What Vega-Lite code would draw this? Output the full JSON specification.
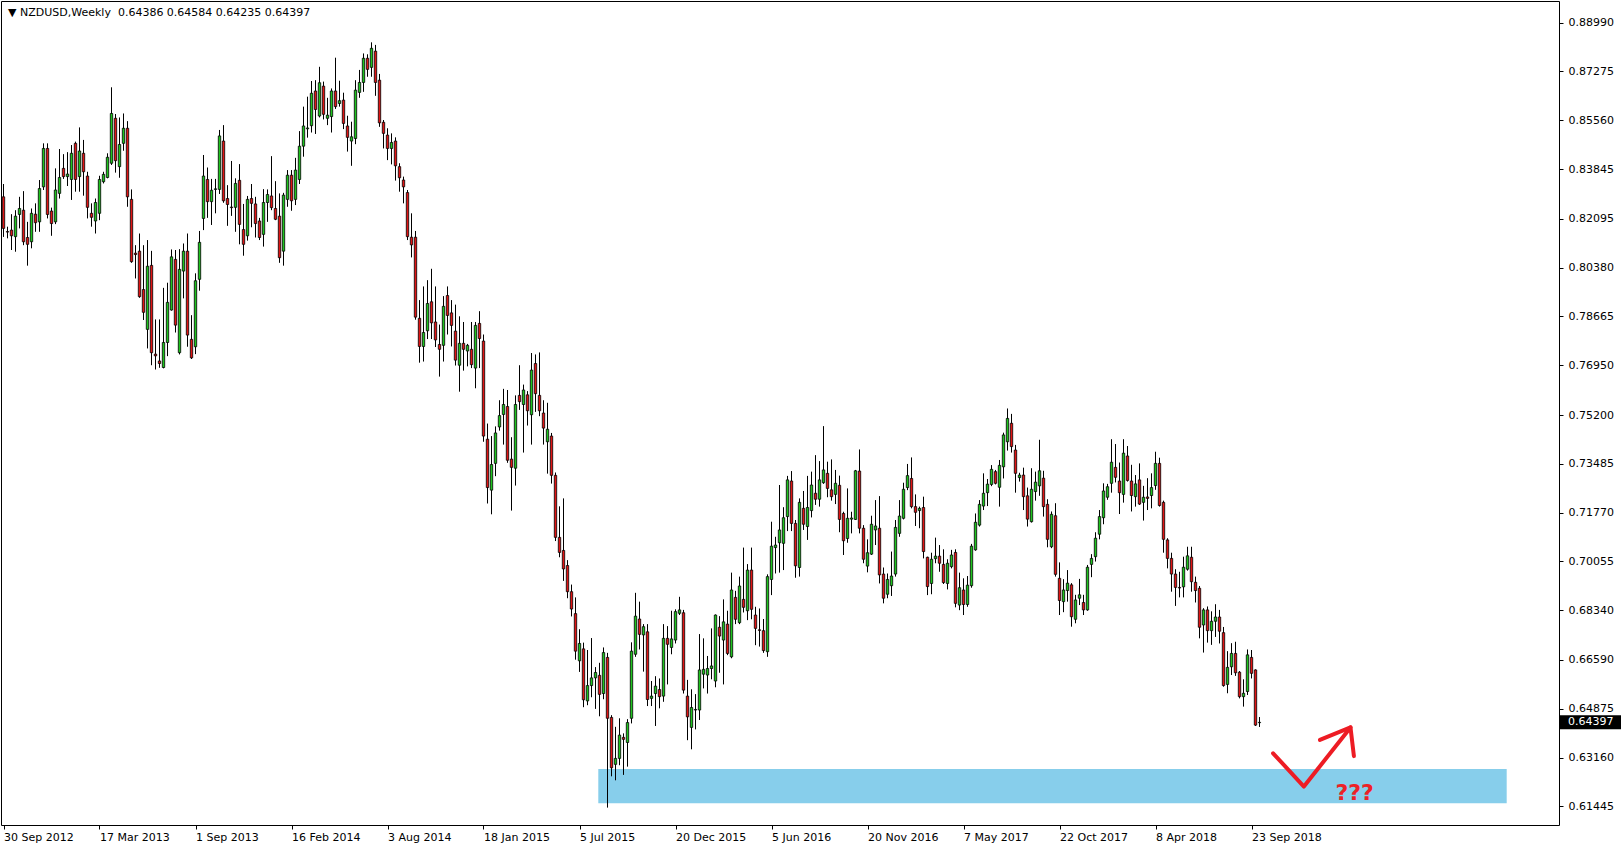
{
"$schema":"https://vega.github.io/schema/vega-lite/v6.json",
"width":1558,"height":824,
"autosize":{"type":"none"},
"padding":{"left":1,"top":1,"right":62,"bottom":25},
"background":"white",
"title":{"text":"▼ NZDUSD,Weekly \u00a00.64386 0.64584 0.64235 0.64397","anchor":"start","frame":"group","orient":"top","offset":-17,"dx":7,"font":"DejaVu Sans","fontSize":11,"fontWeight":"normal","color":"black"},
"config":{"view":{"stroke":"black","strokeWidth":1},"scale":{"continuousPadding":0},"axis":{"labelFont":"DejaVu Sans","labelFontSize":11,"labelColor":"black","tickColor":"black","domainColor":"black","grid":false,"title":null}},
"resolve":{"axis":{"x":"independent","y":"independent"}},
"datasets":{
"candles":[
{"d":"2012-09-30","o":0.8287,"h":0.8332,"l":0.8146,"c":0.8176},
{"d":"2012-10-07","o":0.8165,"h":0.8182,"l":0.8141,"c":0.8163},
{"d":"2012-10-14","o":0.8170,"h":0.8226,"l":0.8100,"c":0.8150},
{"d":"2012-10-21","o":0.8147,"h":0.8240,"l":0.8094,"c":0.8219},
{"d":"2012-10-28","o":0.8225,"h":0.8287,"l":0.8176,"c":0.8246},
{"d":"2012-11-04","o":0.8240,"h":0.8307,"l":0.8117,"c":0.8129},
{"d":"2012-11-11","o":0.8144,"h":0.8199,"l":0.8045,"c":0.8120},
{"d":"2012-11-18","o":0.8129,"h":0.8246,"l":0.8106,"c":0.8229},
{"d":"2012-11-25","o":0.8226,"h":0.8264,"l":0.8164,"c":0.8196},
{"d":"2012-12-02","o":0.8199,"h":0.8346,"l":0.8164,"c":0.8316},
{"d":"2012-12-09","o":0.8322,"h":0.8475,"l":0.8311,"c":0.8457},
{"d":"2012-12-16","o":0.8457,"h":0.8475,"l":0.8211,"c":0.8225},
{"d":"2012-12-23","o":0.8237,"h":0.8249,"l":0.8150,"c":0.8193},
{"d":"2012-12-30","o":0.8199,"h":0.8387,"l":0.8191,"c":0.8311},
{"d":"2013-01-06","o":0.8299,"h":0.8455,"l":0.8281,"c":0.8355},
{"d":"2013-01-13","o":0.8387,"h":0.8437,"l":0.8350,"c":0.8358},
{"d":"2013-01-20","o":0.8358,"h":0.8444,"l":0.8325,"c":0.8367},
{"d":"2013-01-27","o":0.8348,"h":0.8469,"l":0.8276,"c":0.8440},
{"d":"2013-02-03","o":0.8475,"h":0.8481,"l":0.8305,"c":0.8348},
{"d":"2013-02-10","o":0.8358,"h":0.8531,"l":0.8305,"c":0.8448},
{"d":"2013-02-17","o":0.8440,"h":0.8487,"l":0.8291,"c":0.8375},
{"d":"2013-02-24","o":0.8360,"h":0.8375,"l":0.8211,"c":0.8250},
{"d":"2013-03-03","o":0.8229,"h":0.8264,"l":0.8182,"c":0.8215},
{"d":"2013-03-10","o":0.8202,"h":0.8281,"l":0.8158,"c":0.8267},
{"d":"2013-03-17","o":0.8229,"h":0.8361,"l":0.8205,"c":0.8348},
{"d":"2013-03-24","o":0.8340,"h":0.8375,"l":0.8334,"c":0.8366},
{"d":"2013-03-31","o":0.8355,"h":0.8440,"l":0.8352,"c":0.8426},
{"d":"2013-04-07","o":0.8405,"h":0.8672,"l":0.8399,"c":0.8580},
{"d":"2013-04-14","o":0.8563,"h":0.8578,"l":0.8372,"c":0.8414},
{"d":"2013-04-21","o":0.8393,"h":0.8566,"l":0.8354,"c":0.8471},
{"d":"2013-04-28","o":0.8475,"h":0.8580,"l":0.8449,"c":0.8528},
{"d":"2013-05-05","o":0.8528,"h":0.8553,"l":0.8252,"c":0.8287},
{"d":"2013-05-12","o":0.8278,"h":0.8313,"l":0.8055,"c":0.8059},
{"d":"2013-05-19","o":0.8089,"h":0.8117,"l":0.8000,"c":0.8084},
{"d":"2013-05-26","o":0.8096,"h":0.8158,"l":0.7932,"c":0.7936},
{"d":"2013-06-02","o":0.7961,"h":0.8117,"l":0.7854,"c":0.7881},
{"d":"2013-06-09","o":0.7821,"h":0.8135,"l":0.7754,"c":0.8043},
{"d":"2013-06-16","o":0.8046,"h":0.8097,"l":0.7695,"c":0.7739},
{"d":"2013-06-23","o":0.7734,"h":0.7856,"l":0.7680,"c":0.7728},
{"d":"2013-06-30","o":0.7710,"h":0.7856,"l":0.7686,"c":0.7701},
{"d":"2013-07-07","o":0.7687,"h":0.7967,"l":0.7684,"c":0.7775},
{"d":"2013-07-14","o":0.7775,"h":0.7985,"l":0.7727,"c":0.7916},
{"d":"2013-07-21","o":0.7889,"h":0.8102,"l":0.7887,"c":0.8076},
{"d":"2013-07-28","o":0.8067,"h":0.8100,"l":0.7810,"c":0.7836},
{"d":"2013-08-04","o":0.7739,"h":0.8103,"l":0.7733,"c":0.8032},
{"d":"2013-08-11","o":0.8026,"h":0.8123,"l":0.7930,"c":0.8096},
{"d":"2013-08-18","o":0.8096,"h":0.8158,"l":0.7760,"c":0.7801},
{"d":"2013-08-25","o":0.7786,"h":0.7871,"l":0.7717,"c":0.7721},
{"d":"2013-09-01","o":0.7760,"h":0.8018,"l":0.7734,"c":0.7992},
{"d":"2013-09-08","o":0.7997,"h":0.8167,"l":0.7957,"c":0.8127},
{"d":"2013-09-15","o":0.8211,"h":0.8434,"l":0.8170,"c":0.8360},
{"d":"2013-09-22","o":0.8348,"h":0.8390,"l":0.8213,"c":0.8270},
{"d":"2013-09-29","o":0.8270,"h":0.8350,"l":0.8188,"c":0.8310},
{"d":"2013-10-06","o":0.8313,"h":0.8350,"l":0.8229,"c":0.8315},
{"d":"2013-10-13","o":0.8313,"h":0.8522,"l":0.8297,"c":0.8501},
{"d":"2013-10-20","o":0.8483,"h":0.8539,"l":0.8266,"c":0.8273},
{"d":"2013-10-27","o":0.8281,"h":0.8328,"l":0.8185,"c":0.8260},
{"d":"2013-11-03","o":0.8251,"h":0.8413,"l":0.8220,"c":0.8249},
{"d":"2013-11-10","o":0.8250,"h":0.8352,"l":0.8164,"c":0.8334},
{"d":"2013-11-17","o":0.8345,"h":0.8402,"l":0.8120,"c":0.8190},
{"d":"2013-11-24","o":0.8172,"h":0.8262,"l":0.8080,"c":0.8120},
{"d":"2013-12-01","o":0.8150,"h":0.8290,"l":0.8133,"c":0.8278},
{"d":"2013-12-08","o":0.8281,"h":0.8332,"l":0.8180,"c":0.8264},
{"d":"2013-12-15","o":0.8262,"h":0.8287,"l":0.8144,"c":0.8193},
{"d":"2013-12-22","o":0.8202,"h":0.8213,"l":0.8135,"c":0.8144},
{"d":"2013-12-29","o":0.8155,"h":0.8314,"l":0.8112,"c":0.8267},
{"d":"2014-01-05","o":0.8267,"h":0.8313,"l":0.8199,"c":0.8295},
{"d":"2014-01-12","o":0.8290,"h":0.8430,"l":0.8240,"c":0.8249},
{"d":"2014-01-19","o":0.8246,"h":0.8342,"l":0.8205,"c":0.8208},
{"d":"2014-01-26","o":0.8219,"h":0.8299,"l":0.8055,"c":0.8073},
{"d":"2014-02-02","o":0.8096,"h":0.8301,"l":0.8045,"c":0.8293},
{"d":"2014-02-09","o":0.8278,"h":0.8381,"l":0.8252,"c":0.8363},
{"d":"2014-02-16","o":0.8363,"h":0.8381,"l":0.8238,"c":0.8273},
{"d":"2014-02-23","o":0.8278,"h":0.8424,"l":0.8258,"c":0.8381},
{"d":"2014-03-02","o":0.8348,"h":0.8518,"l":0.8332,"c":0.8465},
{"d":"2014-03-09","o":0.8465,"h":0.8604,"l":0.8428,"c":0.8536},
{"d":"2014-03-16","o":0.8526,"h":0.8639,"l":0.8495,"c":0.8529},
{"d":"2014-03-23","o":0.8537,"h":0.8694,"l":0.8513,"c":0.8651},
{"d":"2014-03-30","o":0.8659,"h":0.8697,"l":0.8508,"c":0.8594},
{"d":"2014-04-06","o":0.8571,"h":0.8744,"l":0.8566,"c":0.8688},
{"d":"2014-04-13","o":0.8676,"h":0.8692,"l":0.8559,"c":0.8577},
{"d":"2014-04-20","o":0.8563,"h":0.8635,"l":0.8539,"c":0.8574},
{"d":"2014-04-27","o":0.8569,"h":0.8668,"l":0.8513,"c":0.8659},
{"d":"2014-05-04","o":0.8659,"h":0.8776,"l":0.8596,"c":0.8604},
{"d":"2014-05-11","o":0.8615,"h":0.8695,"l":0.8604,"c":0.8625},
{"d":"2014-05-18","o":0.8627,"h":0.8653,"l":0.8525,"c":0.8545},
{"d":"2014-05-25","o":0.8536,"h":0.8572,"l":0.8446,"c":0.8496},
{"d":"2014-06-01","o":0.8483,"h":0.8551,"l":0.8396,"c":0.8498},
{"d":"2014-06-08","o":0.8492,"h":0.8697,"l":0.8472,"c":0.8662},
{"d":"2014-06-15","o":0.8654,"h":0.8733,"l":0.8635,"c":0.8689},
{"d":"2014-06-22","o":0.8689,"h":0.8791,"l":0.8656,"c":0.8774},
{"d":"2014-06-29","o":0.8774,"h":0.8788,"l":0.8709,"c":0.8735},
{"d":"2014-07-06","o":0.8742,"h":0.8830,"l":0.8709,"c":0.8809},
{"d":"2014-07-13","o":0.8799,"h":0.8821,"l":0.8642,"c":0.8689},
{"d":"2014-07-20","o":0.8697,"h":0.8719,"l":0.8533,"c":0.8547},
{"d":"2014-07-27","o":0.8549,"h":0.8557,"l":0.8457,"c":0.8510},
{"d":"2014-08-03","o":0.8504,"h":0.8528,"l":0.8416,"c":0.8457},
{"d":"2014-08-10","o":0.8457,"h":0.8510,"l":0.8401,"c":0.8478},
{"d":"2014-08-17","o":0.8483,"h":0.8496,"l":0.8344,"c":0.8396},
{"d":"2014-08-24","o":0.8393,"h":0.8405,"l":0.8305,"c":0.8354},
{"d":"2014-08-31","o":0.8346,"h":0.8358,"l":0.8264,"c":0.8322},
{"d":"2014-09-07","o":0.8302,"h":0.8311,"l":0.8135,"c":0.8147},
{"d":"2014-09-14","o":0.8145,"h":0.8229,"l":0.8074,"c":0.8118},
{"d":"2014-09-21","o":0.8145,"h":0.8167,"l":0.7855,"c":0.7864},
{"d":"2014-09-28","o":0.7860,"h":0.7924,"l":0.7704,"c":0.7761},
{"d":"2014-10-05","o":0.7761,"h":0.7972,"l":0.7708,"c":0.7810},
{"d":"2014-10-12","o":0.7816,"h":0.7994,"l":0.7787,"c":0.7912},
{"d":"2014-10-19","o":0.7918,"h":0.8034,"l":0.7787,"c":0.7844},
{"d":"2014-10-26","o":0.7847,"h":0.7972,"l":0.7759,"c":0.7784},
{"d":"2014-11-02","o":0.7768,"h":0.7838,"l":0.7655,"c":0.7751},
{"d":"2014-11-09","o":0.7765,"h":0.7938,"l":0.7708,"c":0.7902},
{"d":"2014-11-16","o":0.7940,"h":0.7972,"l":0.7803,"c":0.7870},
{"d":"2014-11-23","o":0.7879,"h":0.7924,"l":0.7761,"c":0.7835},
{"d":"2014-11-30","o":0.7815,"h":0.7908,"l":0.7694,"c":0.7713},
{"d":"2014-12-07","o":0.7695,"h":0.7867,"l":0.7602,"c":0.7772},
{"d":"2014-12-14","o":0.7772,"h":0.7847,"l":0.7676,"c":0.7751},
{"d":"2014-12-21","o":0.7745,"h":0.7770,"l":0.7691,"c":0.7765},
{"d":"2014-12-28","o":0.7751,"h":0.7847,"l":0.7685,"c":0.7697},
{"d":"2015-01-04","o":0.7685,"h":0.7847,"l":0.7614,"c":0.7835},
{"d":"2015-01-11","o":0.7842,"h":0.7885,"l":0.7685,"c":0.7789},
{"d":"2015-01-18","o":0.7780,"h":0.7803,"l":0.7426,"c":0.7446},
{"d":"2015-01-25","o":0.7435,"h":0.7490,"l":0.7209,"c":0.7265},
{"d":"2015-02-01","o":0.7256,"h":0.7446,"l":0.7171,"c":0.7346},
{"d":"2015-02-08","o":0.7350,"h":0.7480,"l":0.7305,"c":0.7457},
{"d":"2015-02-15","o":0.7478,"h":0.7572,"l":0.7465,"c":0.7518},
{"d":"2015-02-22","o":0.7522,"h":0.7612,"l":0.7416,"c":0.7557},
{"d":"2015-03-01","o":0.7550,"h":0.7608,"l":0.7352,"c":0.7361},
{"d":"2015-03-08","o":0.7365,"h":0.7442,"l":0.7184,"c":0.7336},
{"d":"2015-03-15","o":0.7333,"h":0.7589,"l":0.7272,"c":0.7557},
{"d":"2015-03-22","o":0.7589,"h":0.7695,"l":0.7538,"c":0.7567},
{"d":"2015-03-29","o":0.7557,"h":0.7627,"l":0.7388,"c":0.7608},
{"d":"2015-04-05","o":0.7591,"h":0.7604,"l":0.7483,"c":0.7535},
{"d":"2015-04-12","o":0.7521,"h":0.7738,"l":0.7416,"c":0.7678},
{"d":"2015-04-19","o":0.7701,"h":0.7733,"l":0.7531,"c":0.7595},
{"d":"2015-04-26","o":0.7589,"h":0.7740,"l":0.7516,"c":0.7535},
{"d":"2015-05-03","o":0.7527,"h":0.7572,"l":0.7416,"c":0.7474},
{"d":"2015-05-10","o":0.7426,"h":0.7563,"l":0.7314,"c":0.7470},
{"d":"2015-05-17","o":0.7446,"h":0.7457,"l":0.7279,"c":0.7308},
{"d":"2015-05-24","o":0.7308,"h":0.7318,"l":0.7077,"c":0.7090},
{"d":"2015-05-31","o":0.7090,"h":0.7199,"l":0.7020,"c":0.7037},
{"d":"2015-06-07","o":0.7044,"h":0.7227,"l":0.6937,"c":0.6979},
{"d":"2015-06-14","o":0.6991,"h":0.7010,"l":0.6876,"c":0.6899},
{"d":"2015-06-21","o":0.6899,"h":0.6924,"l":0.6812,"c":0.6838},
{"d":"2015-06-28","o":0.6822,"h":0.6879,"l":0.6660,"c":0.6690},
{"d":"2015-07-05","o":0.6656,"h":0.6767,"l":0.6617,"c":0.6717},
{"d":"2015-07-12","o":0.6698,"h":0.6720,"l":0.6493,"c":0.6519},
{"d":"2015-07-19","o":0.6515,"h":0.6694,"l":0.6500,"c":0.6569},
{"d":"2015-07-26","o":0.6569,"h":0.6736,"l":0.6528,"c":0.6596},
{"d":"2015-08-02","o":0.6596,"h":0.6634,"l":0.6487,"c":0.6615},
{"d":"2015-08-09","o":0.6605,"h":0.6649,"l":0.6461,"c":0.6538},
{"d":"2015-08-16","o":0.6541,"h":0.6703,"l":0.6521,"c":0.6685},
{"d":"2015-08-23","o":0.6668,"h":0.6684,"l":0.6140,"c":0.6454},
{"d":"2015-08-30","o":0.6457,"h":0.6465,"l":0.6250,"c":0.6280},
{"d":"2015-09-06","o":0.6292,"h":0.6424,"l":0.6236,"c":0.6313},
{"d":"2015-09-13","o":0.6313,"h":0.6454,"l":0.6289,"c":0.6395},
{"d":"2015-09-20","o":0.6387,"h":0.6401,"l":0.6255,"c":0.6380},
{"d":"2015-09-27","o":0.6369,"h":0.6451,"l":0.6284,"c":0.6439},
{"d":"2015-10-04","o":0.6454,"h":0.6721,"l":0.6436,"c":0.6690},
{"d":"2015-10-11","o":0.6679,"h":0.6895,"l":0.6670,"c":0.6813},
{"d":"2015-10-18","o":0.6803,"h":0.6864,"l":0.6696,"c":0.6749},
{"d":"2015-10-25","o":0.6747,"h":0.6785,"l":0.6618,"c":0.6776},
{"d":"2015-11-01","o":0.6758,"h":0.6785,"l":0.6497,"c":0.6520},
{"d":"2015-11-08","o":0.6524,"h":0.6585,"l":0.6497,"c":0.6532},
{"d":"2015-11-15","o":0.6541,"h":0.6602,"l":0.6427,"c":0.6567},
{"d":"2015-11-22","o":0.6555,"h":0.6594,"l":0.6489,"c":0.6530},
{"d":"2015-11-29","o":0.6532,"h":0.6785,"l":0.6512,"c":0.6735},
{"d":"2015-12-06","o":0.6735,"h":0.6778,"l":0.6573,"c":0.6714},
{"d":"2015-12-13","o":0.6703,"h":0.6832,"l":0.6679,"c":0.6733},
{"d":"2015-12-20","o":0.6729,"h":0.6837,"l":0.6717,"c":0.6829},
{"d":"2015-12-27","o":0.6823,"h":0.6881,"l":0.6817,"c":0.6835},
{"d":"2016-01-03","o":0.6825,"h":0.6835,"l":0.6541,"c":0.6553},
{"d":"2016-01-10","o":0.6532,"h":0.6589,"l":0.6377,"c":0.6459},
{"d":"2016-01-17","o":0.6422,"h":0.6556,"l":0.6345,"c":0.6492},
{"d":"2016-01-24","o":0.6483,"h":0.6539,"l":0.6415,"c":0.6485},
{"d":"2016-01-31","o":0.6483,"h":0.6750,"l":0.6448,"c":0.6624},
{"d":"2016-02-07","o":0.6609,"h":0.6735,"l":0.6559,"c":0.6626},
{"d":"2016-02-14","o":0.6606,"h":0.6673,"l":0.6541,"c":0.6629},
{"d":"2016-02-21","o":0.6629,"h":0.6770,"l":0.6591,"c":0.6638},
{"d":"2016-02-28","o":0.6585,"h":0.6819,"l":0.6563,"c":0.6817},
{"d":"2016-03-06","o":0.6774,"h":0.6813,"l":0.6614,"c":0.6743},
{"d":"2016-03-13","o":0.6729,"h":0.6872,"l":0.6573,"c":0.6793},
{"d":"2016-03-20","o":0.6785,"h":0.6832,"l":0.6676,"c":0.6682},
{"d":"2016-03-27","o":0.6670,"h":0.6966,"l":0.6665,"c":0.6905},
{"d":"2016-04-03","o":0.6879,"h":0.6902,"l":0.6785,"c":0.6802},
{"d":"2016-04-10","o":0.6790,"h":0.6952,"l":0.6785,"c":0.6919},
{"d":"2016-04-17","o":0.6872,"h":0.7054,"l":0.6826,"c":0.6844},
{"d":"2016-04-24","o":0.6832,"h":0.6996,"l":0.6799,"c":0.6975},
{"d":"2016-05-01","o":0.6975,"h":0.7054,"l":0.6802,"c":0.6837},
{"d":"2016-05-08","o":0.6817,"h":0.6846,"l":0.6711,"c":0.6770},
{"d":"2016-05-15","o":0.6765,"h":0.6840,"l":0.6706,"c":0.6763},
{"d":"2016-05-22","o":0.6762,"h":0.6803,"l":0.6684,"c":0.6692},
{"d":"2016-05-29","o":0.6688,"h":0.6960,"l":0.6670,"c":0.6952},
{"d":"2016-06-05","o":0.6942,"h":0.7145,"l":0.6887,"c":0.7059},
{"d":"2016-06-12","o":0.7054,"h":0.7092,"l":0.6963,"c":0.7063},
{"d":"2016-06-19","o":0.7071,"h":0.7274,"l":0.6966,"c":0.7116},
{"d":"2016-06-26","o":0.7069,"h":0.7196,"l":0.6975,"c":0.7159},
{"d":"2016-07-03","o":0.7163,"h":0.7306,"l":0.7112,"c":0.7292},
{"d":"2016-07-10","o":0.7288,"h":0.7323,"l":0.7112,"c":0.7139},
{"d":"2016-07-17","o":0.7139,"h":0.7151,"l":0.6948,"c":0.6990},
{"d":"2016-07-24","o":0.6984,"h":0.7227,"l":0.6952,"c":0.7213},
{"d":"2016-07-31","o":0.7192,"h":0.7253,"l":0.7116,"c":0.7136},
{"d":"2016-08-07","o":0.7128,"h":0.7306,"l":0.7081,"c":0.7195},
{"d":"2016-08-14","o":0.7184,"h":0.7321,"l":0.7160,"c":0.7274},
{"d":"2016-08-21","o":0.7245,"h":0.7379,"l":0.7204,"c":0.7224},
{"d":"2016-08-28","o":0.7224,"h":0.7358,"l":0.7198,"c":0.7292},
{"d":"2016-09-04","o":0.7282,"h":0.7481,"l":0.7278,"c":0.7327},
{"d":"2016-09-11","o":0.7315,"h":0.7356,"l":0.7231,"c":0.7262},
{"d":"2016-09-18","o":0.7257,"h":0.7364,"l":0.7219,"c":0.7233},
{"d":"2016-09-25","o":0.7241,"h":0.7327,"l":0.7207,"c":0.7280},
{"d":"2016-10-02","o":0.7273,"h":0.7307,"l":0.7108,"c":0.7153},
{"d":"2016-10-09","o":0.7174,"h":0.7180,"l":0.7028,"c":0.7078},
{"d":"2016-10-16","o":0.7086,"h":0.7262,"l":0.7071,"c":0.7157},
{"d":"2016-10-23","o":0.7154,"h":0.7180,"l":0.7104,"c":0.7158},
{"d":"2016-10-30","o":0.7153,"h":0.7327,"l":0.7151,"c":0.7324},
{"d":"2016-11-06","o":0.7323,"h":0.7399,"l":0.7104,"c":0.7122},
{"d":"2016-11-13","o":0.7122,"h":0.7133,"l":0.6999,"c":0.7013},
{"d":"2016-11-20","o":0.6989,"h":0.7083,"l":0.6967,"c":0.7036},
{"d":"2016-11-27","o":0.7031,"h":0.7166,"l":0.7028,"c":0.7136},
{"d":"2016-12-04","o":0.7116,"h":0.7221,"l":0.7063,"c":0.7130},
{"d":"2016-12-11","o":0.7122,"h":0.7235,"l":0.6928,"c":0.6958},
{"d":"2016-12-18","o":0.6961,"h":0.6984,"l":0.6858,"c":0.6876},
{"d":"2016-12-25","o":0.6890,"h":0.6963,"l":0.6876,"c":0.6942},
{"d":"2017-01-01","o":0.6920,"h":0.7040,"l":0.6884,"c":0.6954},
{"d":"2017-01-08","o":0.6961,"h":0.7151,"l":0.6952,"c":0.7125},
{"d":"2017-01-15","o":0.7104,"h":0.7221,"l":0.7092,"c":0.7165},
{"d":"2017-01-22","o":0.7157,"h":0.7282,"l":0.7153,"c":0.7259},
{"d":"2017-01-29","o":0.7265,"h":0.7348,"l":0.7256,"c":0.7307},
{"d":"2017-02-05","o":0.7297,"h":0.7371,"l":0.7192,"c":0.7198},
{"d":"2017-02-12","o":0.7198,"h":0.7241,"l":0.7130,"c":0.7178},
{"d":"2017-02-19","o":0.7184,"h":0.7198,"l":0.7122,"c":0.7192},
{"d":"2017-02-26","o":0.7195,"h":0.7233,"l":0.7016,"c":0.7040},
{"d":"2017-03-05","o":0.7020,"h":0.7022,"l":0.6887,"c":0.6917},
{"d":"2017-03-12","o":0.6928,"h":0.7036,"l":0.6890,"c":0.7013},
{"d":"2017-03-19","o":0.7015,"h":0.7089,"l":0.6999,"c":0.7024},
{"d":"2017-03-26","o":0.7024,"h":0.7063,"l":0.6969,"c":0.6999},
{"d":"2017-04-02","o":0.6995,"h":0.7048,"l":0.6926,"c":0.6931},
{"d":"2017-04-09","o":0.6928,"h":0.7013,"l":0.6907,"c":0.6999},
{"d":"2017-04-16","o":0.6987,"h":0.7046,"l":0.6981,"c":0.7028},
{"d":"2017-04-23","o":0.7037,"h":0.7048,"l":0.6844,"c":0.6858},
{"d":"2017-04-30","o":0.6852,"h":0.6966,"l":0.6834,"c":0.6913},
{"d":"2017-05-07","o":0.6905,"h":0.6946,"l":0.6817,"c":0.6854},
{"d":"2017-05-14","o":0.6854,"h":0.6954,"l":0.6846,"c":0.6922},
{"d":"2017-05-21","o":0.6920,"h":0.7067,"l":0.6913,"c":0.7059},
{"d":"2017-05-28","o":0.7046,"h":0.7174,"l":0.7043,"c":0.7143},
{"d":"2017-06-04","o":0.7133,"h":0.7221,"l":0.7128,"c":0.7206},
{"d":"2017-06-11","o":0.7200,"h":0.7315,"l":0.7186,"c":0.7245},
{"d":"2017-06-18","o":0.7247,"h":0.7295,"l":0.7200,"c":0.7277},
{"d":"2017-06-25","o":0.7276,"h":0.7344,"l":0.7270,"c":0.7329},
{"d":"2017-07-02","o":0.7321,"h":0.7327,"l":0.7276,"c":0.7280},
{"d":"2017-07-09","o":0.7266,"h":0.7362,"l":0.7198,"c":0.7343},
{"d":"2017-07-16","o":0.7338,"h":0.7458,"l":0.7297,"c":0.7450},
{"d":"2017-07-23","o":0.7426,"h":0.7543,"l":0.7395,"c":0.7508},
{"d":"2017-07-30","o":0.7491,"h":0.7524,"l":0.7388,"c":0.7409},
{"d":"2017-08-06","o":0.7397,"h":0.7415,"l":0.7247,"c":0.7315},
{"d":"2017-08-13","o":0.7300,"h":0.7317,"l":0.7286,"c":0.7309},
{"d":"2017-08-20","o":0.7309,"h":0.7335,"l":0.7186,"c":0.7233},
{"d":"2017-08-27","o":0.7236,"h":0.7265,"l":0.7128,"c":0.7154},
{"d":"2017-09-03","o":0.7145,"h":0.7333,"l":0.7142,"c":0.7259},
{"d":"2017-09-10","o":0.7251,"h":0.7321,"l":0.7219,"c":0.7284},
{"d":"2017-09-17","o":0.7271,"h":0.7433,"l":0.7236,"c":0.7324},
{"d":"2017-09-24","o":0.7298,"h":0.7324,"l":0.7163,"c":0.7198},
{"d":"2017-10-01","o":0.7206,"h":0.7224,"l":0.7055,"c":0.7083},
{"d":"2017-10-08","o":0.7057,"h":0.7181,"l":0.7052,"c":0.7171},
{"d":"2017-10-15","o":0.7166,"h":0.7210,"l":0.6952,"c":0.6960},
{"d":"2017-10-22","o":0.6946,"h":0.7002,"l":0.6817,"c":0.6868},
{"d":"2017-10-29","o":0.6864,"h":0.6943,"l":0.6827,"c":0.6905},
{"d":"2017-11-05","o":0.6903,"h":0.6975,"l":0.6864,"c":0.6929},
{"d":"2017-11-12","o":0.6923,"h":0.6929,"l":0.6776,"c":0.6811},
{"d":"2017-11-19","o":0.6802,"h":0.6888,"l":0.6788,"c":0.6870},
{"d":"2017-11-26","o":0.6876,"h":0.6944,"l":0.6852,"c":0.6888},
{"d":"2017-12-03","o":0.6861,"h":0.6888,"l":0.6817,"c":0.6835},
{"d":"2017-12-10","o":0.6835,"h":0.6993,"l":0.6832,"c":0.6985},
{"d":"2017-12-17","o":0.6995,"h":0.7031,"l":0.6950,"c":0.7016},
{"d":"2017-12-24","o":0.7022,"h":0.7108,"l":0.7005,"c":0.7087},
{"d":"2017-12-31","o":0.7101,"h":0.7186,"l":0.7083,"c":0.7163},
{"d":"2018-01-07","o":0.7159,"h":0.7280,"l":0.7136,"c":0.7253},
{"d":"2018-01-14","o":0.7231,"h":0.7278,"l":0.7222,"c":0.7268},
{"d":"2018-01-21","o":0.7280,"h":0.7435,"l":0.7247,"c":0.7354},
{"d":"2018-01-28","o":0.7336,"h":0.7418,"l":0.7283,"c":0.7301},
{"d":"2018-02-04","o":0.7288,"h":0.7353,"l":0.7172,"c":0.7247},
{"d":"2018-02-11","o":0.7241,"h":0.7435,"l":0.7212,"c":0.7386},
{"d":"2018-02-18","o":0.7376,"h":0.7411,"l":0.7286,"c":0.7290},
{"d":"2018-02-25","o":0.7288,"h":0.7345,"l":0.7181,"c":0.7237},
{"d":"2018-03-04","o":0.7233,"h":0.7309,"l":0.7198,"c":0.7278},
{"d":"2018-03-11","o":0.7292,"h":0.7350,"l":0.7204,"c":0.7207},
{"d":"2018-03-18","o":0.7213,"h":0.7271,"l":0.7149,"c":0.7231},
{"d":"2018-03-25","o":0.7232,"h":0.7298,"l":0.7186,"c":0.7227},
{"d":"2018-04-01","o":0.7237,"h":0.7315,"l":0.7192,"c":0.7265},
{"d":"2018-04-08","o":0.7272,"h":0.7391,"l":0.7257,"c":0.7350},
{"d":"2018-04-15","o":0.7350,"h":0.7370,"l":0.7198,"c":0.7202},
{"d":"2018-04-22","o":0.7213,"h":0.7219,"l":0.7036,"c":0.7083},
{"d":"2018-04-29","o":0.7081,"h":0.7087,"l":0.6981,"c":0.7016},
{"d":"2018-05-06","o":0.7016,"h":0.7036,"l":0.6899,"c":0.6961},
{"d":"2018-05-13","o":0.6961,"h":0.6978,"l":0.6849,"c":0.6914},
{"d":"2018-05-20","o":0.6914,"h":0.6969,"l":0.6879,"c":0.6912},
{"d":"2018-05-27","o":0.6916,"h":0.7022,"l":0.6879,"c":0.6985},
{"d":"2018-06-03","o":0.6978,"h":0.7057,"l":0.6973,"c":0.7025},
{"d":"2018-06-10","o":0.7020,"h":0.7057,"l":0.6899,"c":0.6934},
{"d":"2018-06-17","o":0.6932,"h":0.6952,"l":0.6861,"c":0.6903},
{"d":"2018-06-24","o":0.6911,"h":0.6919,"l":0.6735,"c":0.6774},
{"d":"2018-07-01","o":0.6782,"h":0.6841,"l":0.6685,"c":0.6835},
{"d":"2018-07-08","o":0.6835,"h":0.6847,"l":0.6720,"c":0.6762},
{"d":"2018-07-15","o":0.6762,"h":0.6830,"l":0.6712,"c":0.6795},
{"d":"2018-07-22","o":0.6795,"h":0.6855,"l":0.6740,"c":0.6810},
{"d":"2018-07-29","o":0.6810,"h":0.6835,"l":0.6717,"c":0.6760},
{"d":"2018-08-05","o":0.6755,"h":0.6775,"l":0.6565,"c":0.6569},
{"d":"2018-08-12","o":0.6573,"h":0.6690,"l":0.6542,"c":0.6633},
{"d":"2018-08-19","o":0.6635,"h":0.6718,"l":0.6606,"c":0.6682},
{"d":"2018-08-26","o":0.6682,"h":0.6723,"l":0.6603,"c":0.6614},
{"d":"2018-09-02","o":0.6616,"h":0.6620,"l":0.6524,"c":0.6530},
{"d":"2018-09-09","o":0.6530,"h":0.6591,"l":0.6495,"c":0.6542},
{"d":"2018-09-16","o":0.6548,"h":0.6696,"l":0.6536,"c":0.6677},
{"d":"2018-09-23","o":0.6668,"h":0.6694,"l":0.6594,"c":0.6612},
{"d":"2018-09-30","o":0.6624,"h":0.6626,"l":0.6427,"c":0.6430},
{"d":"2018-10-07","o":0.64386,"h":0.64584,"l":0.64235,"c":0.64397}
],
"zone":[{"d1":"2015-08-06T21:36:00Z","d2":"2019-12-13T14:24:00Z","p1":0.6155,"p2":0.6276}],
"arrow":[
{"d":"2018-10-30T19:12:00Z","p":0.6331,"seg":"a","k":1},
{"d":"2018-12-23T17:00:00Z","p":0.6214,"seg":"a","k":2},
{"d":"2019-03-15T06:00:00Z","p":0.6422,"seg":"a","k":3},
{"d":"2019-01-20T17:00:00Z","p":0.6378,"seg":"b","k":1},
{"d":"2019-03-15T06:00:00Z","p":0.6422,"seg":"b","k":2},
{"d":"2019-03-21T05:00:00Z","p":0.6321,"seg":"b","k":3}
],
"note":[{"d":"2019-03-22T14:00:00Z","p":0.6193,"t":"???"}],
"last":[{"p":0.64397,"t":"0.64397"}]
},
"layer":[
{"data":{"name":"zone"},
 "mark":{"type":"rect","color":"#87CEEB","opacity":1},
 "encoding":{
  "x":{"field":"d1","type":"temporal","scale":{"type":"utc","padding":0,"domain":[{"year":2012,"month":9,"date":25,"hours":15,"utc":true},{"year":2020,"month":3,"date":14,"hours":3,"utc":true}]},"axis":null},
  "x2":{"field":"d2"},
  "y":{"field":"p1","type":"quantitative","scale":{"domain":[0.60789,0.89753],"nice":false,"zero":false,"padding":0},"axis":null},
  "y2":{"field":"p2"}}},
{"data":{"name":"candles"},
 "mark":{"type":"rule","color":"black","strokeWidth":1},
 "encoding":{
  "x":{"field":"d","type":"temporal","scale":{"type":"utc","padding":0,"domain":[{"year":2012,"month":9,"date":25,"hours":15,"utc":true},{"year":2020,"month":3,"date":14,"hours":3,"utc":true}]},
   "axis":{"orient":"bottom","format":"%-d %b %Y","labelAlign":"left","labelBaseline":"top","labelPadding":2,"tickSize":4,"labelOverlap":false,"labelFlush":false,"domain":false,
    "values":[{"year":2012,"month":9,"date":30,"utc":true},{"year":2013,"month":3,"date":17,"utc":true},{"year":2013,"month":9,"date":1,"utc":true},{"year":2014,"month":2,"date":16,"utc":true},{"year":2014,"month":8,"date":3,"utc":true},{"year":2015,"month":1,"date":18,"utc":true},{"year":2015,"month":7,"date":5,"utc":true},{"year":2015,"month":12,"date":20,"utc":true},{"year":2016,"month":6,"date":5,"utc":true},{"year":2016,"month":11,"date":20,"utc":true},{"year":2017,"month":5,"date":7,"utc":true},{"year":2017,"month":10,"date":22,"utc":true},{"year":2018,"month":4,"date":8,"utc":true},{"year":2018,"month":9,"date":23,"utc":true}]}},
  "y":{"field":"l","type":"quantitative","scale":{"domain":[0.60789,0.89753],"nice":false,"zero":false,"padding":0},
   "axis":{"orient":"right","format":".5f","labelAlign":"left","labelBaseline":"middle","labelPadding":5,"tickSize":4,"labelOverlap":false,"labelFlush":false,"domain":false,
    "values":[0.61445,0.6316,0.64875,0.6659,0.6834,0.70055,0.7177,0.73485,0.752,0.7695,0.78665,0.8038,0.82095,0.83845,0.8556,0.87275,0.8899]}},
  "y2":{"field":"h"}}},
{"data":{"name":"candles"},
 "mark":{"type":"bar","width":2.4,"stroke":"black","strokeWidth":0.8},
 "encoding":{
  "x":{"field":"d","type":"temporal","scale":{"type":"utc","padding":0,"domain":[{"year":2012,"month":9,"date":25,"hours":15,"utc":true},{"year":2020,"month":3,"date":14,"hours":3,"utc":true}]},"axis":null},
  "y":{"field":"o","type":"quantitative","scale":{"domain":[0.60789,0.89753],"nice":false,"zero":false,"padding":0},"axis":null},
  "y2":{"field":"c"},
  "color":{"condition":{"test":"datum.c >= datum.o","value":"#1ec41e"},"value":"#e01414"}}},
{"data":{"name":"arrow"},
 "mark":{"type":"line","color":"#ed1c24","strokeWidth":4,"strokeCap":"round","strokeJoin":"round"},
 "encoding":{
  "x":{"field":"d","type":"temporal","scale":{"type":"utc","padding":0,"domain":[{"year":2012,"month":9,"date":25,"hours":15,"utc":true},{"year":2020,"month":3,"date":14,"hours":3,"utc":true}]},"axis":null},
  "y":{"field":"p","type":"quantitative","scale":{"domain":[0.60789,0.89753],"nice":false,"zero":false,"padding":0},"axis":null},
  "detail":{"field":"seg"},
  "order":{"field":"k"}}},
{"data":{"name":"note"},
 "mark":{"type":"text","color":"#ec2227","font":"DejaVu Sans","fontSize":22,"fontWeight":"bold","align":"center","baseline":"middle"},
 "encoding":{
  "x":{"field":"d","type":"temporal","scale":{"type":"utc","padding":0,"domain":[{"year":2012,"month":9,"date":25,"hours":15,"utc":true},{"year":2020,"month":3,"date":14,"hours":3,"utc":true}]},"axis":null},
  "y":{"field":"p","type":"quantitative","scale":{"domain":[0.60789,0.89753],"nice":false,"zero":false,"padding":0},"axis":null},
  "text":{"field":"t"}}},
{"data":{"name":"last"},
 "mark":{"type":"bar","color":"black","height":14,"clip":false},
 "encoding":{
  "x":{"datum":{"year":2020,"month":3,"date":14,"hours":3,"utc":true},"type":"temporal","scale":{"type":"utc","padding":0,"domain":[{"year":2012,"month":9,"date":25,"hours":15,"utc":true},{"year":2020,"month":3,"date":14,"hours":3,"utc":true}]},"axis":null},
  "x2":{"datum":{"year":2020,"month":8,"date":1,"utc":true}},
  "y":{"field":"p","type":"quantitative","scale":{"domain":[0.60789,0.89753],"nice":false,"zero":false,"padding":0},"axis":null}}},
{"data":{"name":"last"},
 "mark":{"type":"text","color":"white","font":"DejaVu Sans","fontSize":11,"align":"left","baseline":"middle","dx":9,"clip":false},
 "encoding":{
  "x":{"datum":{"year":2020,"month":3,"date":14,"hours":3,"utc":true},"type":"temporal","scale":{"type":"utc","padding":0,"domain":[{"year":2012,"month":9,"date":25,"hours":15,"utc":true},{"year":2020,"month":3,"date":14,"hours":3,"utc":true}]},"axis":null},
  "y":{"field":"p","type":"quantitative","scale":{"domain":[0.60789,0.89753],"nice":false,"zero":false,"padding":0},"axis":null},
  "text":{"field":"t"}}}
]
}
